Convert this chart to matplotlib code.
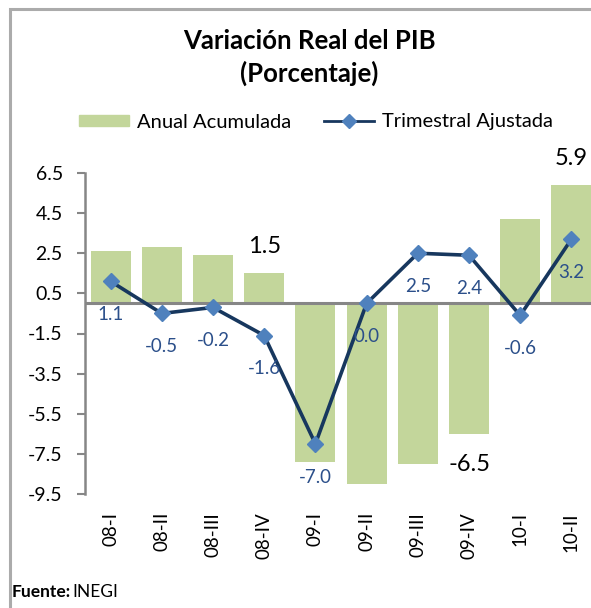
import matplotlib.pyplot as plt
import numpy as np
from matplotlib.patches import Rectangle
from matplotlib.lines import Line2D

plt.rcParams['font.family'] = ['Lato', 'DejaVu Sans']

trimestres = ["08-I", "08-II", "08-III", "08-IV", "09-I", "09-II", "09-III", "09-IV", "10-I", "10-II"]
anual_acumulada = [2.6, 2.8, 2.4, 1.5, -7.9, -9.0, -8.0, -6.5, 4.2, 5.9]
trimestral_ajustada = [1.1, -0.5, -0.2, -1.6, -7.0, 0.0, 2.5, 2.4, -0.6, 3.2]
# only these bars carry a label in the original
anual_etiquetas = {3: "1.5", 7: "-6.5", 9: "5.9"}
y_ticks = [6.5, 4.5, 2.5, 0.5, -1.5, -3.5, -5.5, -7.5, -9.5]

fig = plt.figure(figsize=(5.91, 6.08), dpi=100)
ax = fig.add_axes([85 / 591, 1 - 494 / 608, 512 / 591, 321 / 608])

x = np.arange(len(trimestres))
ax.bar(x, anual_acumulada, width=0.78, color="#C3D69B", zorder=1)
ax.axhline(0, color="#868686", lw=2.2, zorder=2)
ax.plot(x, trimestral_ajustada, color="#17375E", lw=2.6, marker="D", ms=8,
        mfc="#4F81BD", mec="#4F81BD", zorder=3)

for i, v in enumerate(trimestral_ajustada):
    ax.annotate(f"{v:.1f}", (i, v), xytext=(0, -24), textcoords="offset points",
                ha="center", va="center", fontsize=13.5, color="#2B4F8A", zorder=4)

for i, txt in anual_etiquetas.items():
    v = anual_acumulada[i]
    off = 19 if v > 0 else -22
    ax.annotate(txt, (i, v), xytext=(0, off), textcoords="offset points",
                ha="center", va="center", fontsize=17, color="black")

ax.set_xlim(-0.5, len(trimestres) - 0.5)
ax.set_ylim(-9.5, 6.5)
ax.set_yticks(y_ticks)
ax.set_yticklabels([f"{t:.1f}" for t in y_ticks], fontsize=14)
ax.set_xticks(x)
ax.set_xticklabels(trimestres, rotation=90, fontsize=13.5)
ax.tick_params(axis="x", length=0, pad=13)
ax.tick_params(axis="y", length=6, width=1.5, color="#868686", pad=10)
for s in ["top", "right", "bottom"]:
    ax.spines[s].set_visible(False)
ax.spines["left"].set_color("#868686")
ax.spines["left"].set_linewidth(1.8)

fig.text(309 / 591, 1 - 41 / 608, "Variación Real del PIB", ha="center", va="center",
         fontsize=18.5, fontweight="bold")
fig.text(309 / 591, 1 - 73 / 608, "(Porcentaje)", ha="center", va="center",
         fontsize=18.5, fontweight="bold")

handles = [Rectangle((0, 0), 1, 0.4, color="#C3D69B"),
           Line2D([], [], color="#17375E", lw=2, marker="D", ms=7,
                  mfc="#4F81BD", mec="#4F81BD")]
fig.legend(handles, ["Anual Acumulada", "Trimestral Ajustada"], loc="center",
           bbox_to_anchor=(316 / 591, 1 - 122 / 608), ncol=2, frameon=False,
           fontsize=14.5, handlelength=2.5, handleheight=0.5, columnspacing=1.6,
           handletextpad=0.4)

fig.text(12 / 591, 1 - 592 / 608, "Fuente:", fontweight="bold", fontsize=12.5,
         ha="left", va="center")
fig.text(72 / 591, 1 - 592 / 608, "INEGI", fontsize=12.5, ha="left", va="center")

fig.patches.append(Rectangle((10 / 591, -0.05), 1.2, 1 - 9 / 608 + 0.05,
                             transform=fig.transFigure, fill=False,
                             edgecolor="#ABABAB", lw=2.2))

fig.savefig("out.png", dpi=100)
